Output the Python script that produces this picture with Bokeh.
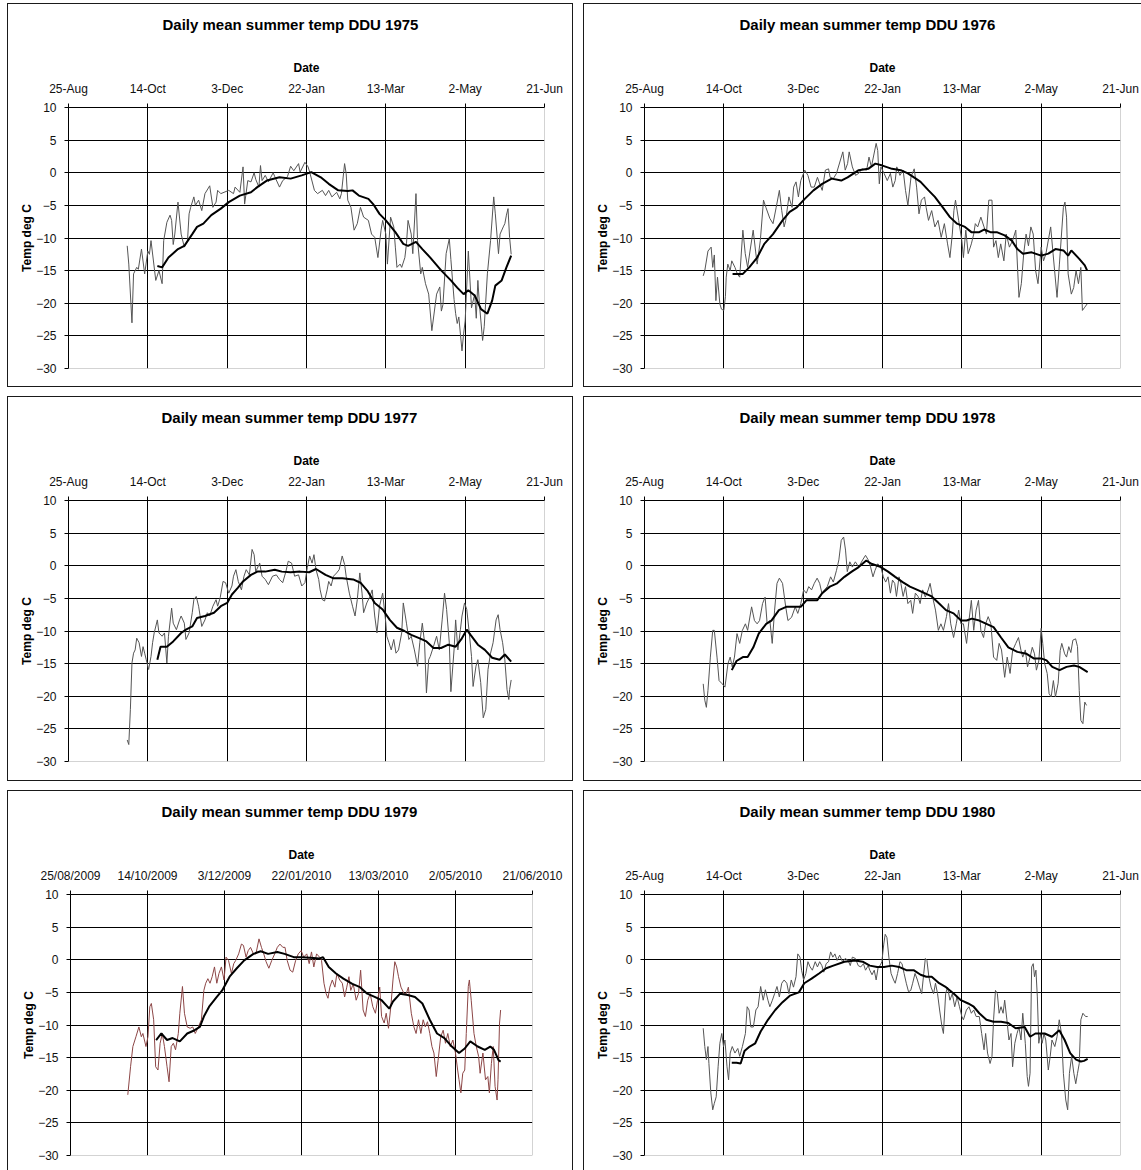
from bokeh.plotting import figure
from bokeh.layouts import column, row
from bokeh.models import Range1d, FixedTicker, Span, LinearAxis, Title
from bokeh.embed import file_html
from bokeh.resources import INLINE

FONT = "Liberation Sans"

# x values are days counted from 25-Aug (tick every 50 days)
tick_days = [0, 50, 100, 150, 200, 250, 300]
tick_labels_short = ["25-Aug", "14-Oct", "3-Dec", "22-Jan", "13-Mar", "2-May", "21-Jun"]
tick_labels_1979 = ["25/08/2009", "14/10/2009", "3/12/2009", "22/01/2010",
                    "13/03/2010", "2/05/2010", "21/06/2010"]
y_ticks = [-30, -25, -20, -15, -10, -5, 0, 5, 10]

# ---------------- 1975 ----------------
days_1975 = [37, 38, 40, 41, 43, 44, 46, 48, 50, 51, 52, 55, 57, 59, 60, 62, 64, 65, 66, 67,
             69, 71, 73, 75, 76, 77, 79, 80, 82, 84, 86, 89, 91, 93, 94, 96, 98, 101, 104, 105,
             108, 110, 111, 113, 115, 117, 118, 120, 121, 122, 124, 126, 129, 130, 133, 135, 138, 140, 142, 145,
             146, 149, 151, 152, 155, 157, 160, 162, 164, 166, 169, 171, 172, 174, 175, 176, 178, 180, 182, 184,
             186, 189, 191, 193, 195, 197, 198, 200, 201, 203, 205, 206, 207, 209, 210, 212, 213, 214, 216, 217,
             219, 220, 222, 223, 225, 227, 229, 232, 234, 235, 236, 238, 240, 241, 243, 244, 245, 246, 248, 249,
             250, 252, 254, 256, 257, 258, 259, 261, 262, 264, 266, 268, 269, 271, 272, 274, 275, 276, 277, 278, 279]
temp_1975 = [-11.2, -14, -23, -15.5, -14.5, -14.8, -11.7, -15.5, -12, -12.5, -10.4, -16.5, -15, -17, -10.4, -7.6, -6.5, -7.3, -11, -9.4,
             -4.5, -9.4, -11.4, -10.4, -6.3, -5.3, -3.7, -5, -4.2, -5.8, -3.2, -2, -5.3, -4.5, -2.7, -3.2, -3, -2.7, -3.2, -2.2,
             -3, 0.9, -4.8, -1.2, -1.4, 0, -1, -2.2, 1.1, -1.2, -0.4, -1.4, 0, -0.6, -2.2, -1.2, -0.6, 1, 0.3, 1.4,
             0.1, 1.6, 0.9, 0.1, -2.7, -3.2, -2.7, -3.5, -2.7, -3.7, -3, -4, -3.2, 1.4, -0.1, -4.2, -5.3, -8.8, -7.8, -5.3,
             -6.8, -7.3, -9.4, -9.9, -13, -8.8, -7.3, -9.4, -14, -6.8, -8.3, -11.4, -14.5, -14, -14.5, -13, -10.9, -7.3, -9.4, -12.4,
             -3.2, -10.4, -15.5, -14.5, -17, -18.6, -24.2, -18.6, -17.5, -21.2, -20.2, -12.4, -10.1, -13.3, -19.4, -21.6, -23.1, -22.1, -27.3, -24.7,
             -22.7, -12, -20.7, -18.6, -22.3, -16.5, -20.2, -25.7, -23.6, -15.5, -10.4, -3.7, -6.3, -12.4, -9.4, -8.3, -7.8, -6.5, -5.5, -9.9, -12.5]
smooth_days_1975 = [56, 59, 63, 69, 73, 78, 81, 85, 90, 96, 101, 108, 115, 119, 125, 133, 140, 147, 153, 159,
                    164, 170, 176, 179, 183, 189, 192, 196, 200, 206, 211, 214, 219, 223, 228, 235, 241, 245, 249, 252,
                    256, 260, 264, 267, 269, 273, 276, 279]
smooth_1975 = [-14.3, -14.5, -13, -11.7, -11.2, -9.4, -8.3, -7.8, -6.5, -5.5, -4.5, -3.5, -3, -2.2, -1.2, -0.7, -0.9, -0.4, 0.1, -0.7,
               -1.7, -2.7, -2.8, -2.7, -3.5, -4, -4.8, -6.3, -7.3, -9.1, -10.9, -11.2, -10.6, -11.7, -13, -15, -16.5, -17.6, -18.6, -18,
               -18.8, -20.9, -21.6, -19.6, -17.3, -16.5, -14.5, -12.7]

# ---------------- 1976 ----------------
days_1976 = [37, 38, 40, 42, 43, 44, 45, 46, 47.5, 48.5, 50, 51, 51.5, 52.5, 54, 55, 57, 58.5, 60, 62,
             63.5, 65, 66.5, 68.5, 70, 71, 73, 75, 76.5, 79, 81, 83, 85, 86.5, 88, 89, 91, 93, 94, 95.5,
             97, 98.5, 101, 103, 105, 107, 109, 110, 112, 114, 116, 117, 119, 121, 125, 126.5, 128, 129, 131, 133,
             135, 137, 140, 141.5, 143, 146, 147, 148, 149, 151, 153, 155, 156.5, 158, 159, 161, 163, 164.5, 166, 168,
             170, 171.5, 173, 174.5, 176.5, 177.5, 179, 181, 183, 185, 187, 189, 191, 192.5, 194, 195, 196, 198, 200, 201,
             202.5, 204, 206, 207.5, 208.5, 210, 212, 214, 215.5, 217, 219, 220, 221.5, 223, 224.5, 226.5, 228, 230, 232, 234,
             236, 237.5, 239, 240.5, 242, 243.5, 245, 246.5, 248, 250, 251.5, 253, 256, 257.5, 260, 261.5, 264, 265, 266, 267,
             269, 270.5, 272, 273.5, 275, 276, 277.5, 279]
temp_1976 = [-15.8, -15, -12, -11.4, -14.5, -12.6, -19.6, -16, -20.1, -20.9, -21.1, -19, -16, -14, -15, -13.5, -14.5, -15.5, -16, -8.8,
             -12.4, -14.5, -12, -8.8, -12, -14, -10.4, -4.2, -5.3, -7, -7.8, -5.3, -2.7, -5.8, -8.3, -7.3, -3.7, -5.3, -2.2, -1.4,
             -3.7, -1.2, 0.4, -0.4, -2.2, -2.2, -0.7, -1.4, -2.7, 0.4, 0.6, -0.7, -0.9, -0.1, 3.2, 0.4, 1.4, 3.2, 0.9, -0.4,
             -0.1, 0.6, 0.4, 2.4, 0.9, 4.5, 3.4, -1.7, 0.9, -0.1, -1.2, -0.1, -2.2, -1.2, 0.9, -0.4, 0.4, -2.7, -5, -0.6,
             0.6, -2.2, -6.3, -4.2, -3.7, -5.3, -7.3, -5.8, -8.3, -7.3, -9.9, -7.8, -10.9, -13, -9.4, -5.8, -4.2, -7.3, -10.4, -13,
             -8.8, -12.4, -10.9, -9.4, -7.8, -8.3, -6.8, -8.3, -9.4, -4.2, -4.2, -11.4, -10.4, -13, -10.9, -13.5, -9.4, -11.4, -10.4, -8.8,
             -19.1, -17, -12.4, -9.4, -11.2, -8.3, -9.4, -15, -17, -11.4, -13.5, -12.4, -8.3, -12.4, -19.1, -14, -5.3, -4.5, -6.8, -15.5,
             -18.6, -17.6, -15, -17, -14.5, -21.1, -20.6, -20.1]
smooth_days_1976 = [55.5, 62, 66, 71, 75.5, 81, 87, 91.5, 96, 101, 106.5, 112, 118, 124, 128, 135, 141, 145.5, 150, 156,
                    161.5, 166, 171, 174, 179, 183, 188, 192.5, 197, 202, 206, 211, 214, 218, 222, 227, 231.5, 235, 238.5, 244,
                    250, 254.5, 259, 264, 267, 269, 274, 277.5, 279]
smooth_1976 = [-15.5, -15.5, -14.5, -13, -10.9, -9.4, -7.3, -6, -5.3, -4, -2.7, -1.7, -0.9, -1.2, -0.7, 0.4, 0.6, 1.4, 1.1, 0.6,
               0.4, -0.1, -0.9, -1.4, -2.7, -3.7, -5.3, -6.8, -7.8, -8.3, -9.1, -9.1, -8.7, -9.1, -9.1, -9.6, -10.4, -11.7, -12.4, -12.2,
               -12.7, -12.4, -11.7, -11.9, -12.7, -11.9, -13.2, -14.2, -15]

# ---------------- 1977 ----------------
days_1977 = [37, 38, 39, 40, 41, 42, 43, 44.5, 46, 47, 48, 49, 50.5, 52, 53, 54, 56, 57, 59, 60.5,
             62, 63, 65, 66, 68, 70, 71, 73, 74, 76, 78, 79, 80.5, 82, 84, 86, 87.5, 89, 91, 93,
             94, 95.6, 97.4, 99, 101, 103, 104, 105.5, 107, 109, 110.6, 112, 114, 115.7, 117, 118, 120.5, 122, 124, 126,
             128.6, 131, 133, 135, 137, 138.5, 140.6, 142.5, 145, 147, 149, 150.5, 152, 153.5, 154.7, 156, 157.7, 158.6, 160, 161.4,
             163, 164, 165.5, 167, 169, 170.6, 172.5, 174, 175, 177, 179, 180.6, 182, 183.6, 185, 186, 188, 190, 191.4, 193,
             194.4, 196, 198, 200, 200.6, 202, 203.4, 205, 206.4, 208, 210, 211, 213, 214.5, 216, 218, 220, 221.4, 223, 224.4,
             225.6, 227, 228, 230, 232, 233.7, 235.5, 237, 238.3, 240, 241, 243, 244, 245.4, 247, 248, 249.6, 251, 252.6, 254,
             255, 256.8, 258, 259.8, 261.4, 263, 264.4, 266, 267.6, 269.5, 270.8, 272, 273.6, 275, 276.4, 277.5, 278, 279]
temp_1977 = [-26.7, -27.4, -22, -14.9, -13.4, -12.9, -11.1, -11.8, -13.9, -12.4, -13.4, -14.4, -15.9, -13.9, -11.8, -10.3, -8.3, -10.3, -10.8, -10.3,
             -14.9, -10.8, -6.5, -8.8, -9.8, -8.3, -7.7, -8.8, -11.3, -10.3, -7.2, -5.2, -4.7, -6.2, -9.3, -8.3, -7.2, -7.7, -6.2, -5.2,
             -6.2, -4.9, -2.4, -2.6, -4.2, -3.1, -1.6, -0.6, -2.4, -3.7, -1.6, -0.6, -1.4, 2.5, 1.7, -0.9, 0.4, -1.6, -2.1, -2.9,
             -1.6, -1.4, -2.1, -2.6, -0.9, 0.7, 0.4, -1.6, -1.4, -3.1, -2.6, -0.3, 1.5, 0.4, 1.7, -0.6, -2.1, -3.7, -5.2, -5.4,
             -3.7, -2.4, -3.1, -1.6, -1.1, -0.6, 1.5, 0.2, -1.6, -4.2, -6.2, -7.7, -5.2, -1.1, -4.2, -7.2, -5.7, -4.7, -3.7, -7.7,
             -10.3, -6.2, -4.2, -8.8, -10.8, -11.8, -12.9, -11.3, -13.4, -12.9, -10.3, -5.7, -8.8, -11.3, -10.8, -12.9, -15.4, -11.8, -8.8, -11.8,
             -19.5, -14.4, -13.9, -12.4, -10.8, -12.9, -8.3, -4.2, -6.7, -11.8, -19.3, -12.9, -8.3, -12.9, -9.8, -7.7, -5.7, -6.7, -10.3, -13.9,
             -18.5, -15.4, -14.4, -17.9, -23.3, -22, -15.9, -13.4, -11.8, -8.3, -7.5, -9.8, -11.8, -14.4, -19, -20.5, -19, -17.5]
smooth_days_1977 = [56, 58, 62, 66, 71, 74, 78, 81, 86, 91.7, 96, 100, 103, 106.7, 110, 115, 119, 124, 130, 134.4,
                    140, 146, 151.7, 156, 162, 166.7, 172.5, 179.4, 184, 188.6, 193, 198, 202.5, 207, 211.7, 216, 221, 225.6, 230, 234.8,
                    239.4, 244, 247.5, 251, 253.4, 258, 262.4, 267, 271.7, 275, 279]
smooth_1977 = [-14.4, -12.4, -12.4, -11.6, -10.3, -9.8, -9.3, -8, -7.7, -7.2, -6.2, -5.7, -4.4, -3.4, -2.4, -1.4, -0.9, -0.9, -0.6, -0.9,
               -1, -0.9, -1, -0.5, -1.4, -1.9, -1.9, -2.1, -2.6, -3.9, -5.7, -6.7, -8.3, -9.5, -10, -10.6, -11.1, -11.6, -12.6, -12.6,
               -12.1, -12.4, -11.3, -9.8, -10.6, -12.1, -12.9, -14.1, -14.4, -13.6, -14.7]

# ---------------- 1978 ----------------
days_1978 = [37, 38, 39, 40, 41.5, 43, 44, 45.7, 47, 49, 50.7, 52.6, 54, 55.3, 56.7, 58.3, 60, 61.7, 63.6, 65,
             67.5, 69.3, 71, 72.5, 74.4, 76, 77.3, 79, 80.5, 82, 83.5, 85, 87, 89, 90.4, 92.7, 95, 96.6, 98.5, 100.3,
             102, 103.5, 105.3, 107, 108.8, 110.4, 111.8, 113.4, 115.2, 117.3, 119, 121, 122.5, 124, 125.5, 126.7, 127.8, 129.4, 131, 132.9,
             135, 137.5, 139.3, 141, 142.5, 144, 145.3, 147, 149, 150.5, 152, 153.5, 155, 156.3, 157.7, 158.8, 160.4, 161.6, 163, 164.5,
             166, 167.8, 169, 170.7, 172.4, 173.7, 175.3, 177, 178.8, 180, 181.5, 183.4, 185.2, 186.8, 188.4, 190.3, 191.6, 193, 194.8, 196.5,
             198, 199.4, 201, 203, 204.5, 206, 207.5, 209, 210.5, 212, 213.7, 215, 216.6, 218.3, 220, 222, 223.5, 225, 227, 228.6,
             230.4, 232, 234, 235.7, 237.3, 238.4, 240, 241.4, 243, 244.4, 245.8, 247, 248.5, 250, 251, 252.2, 253.8, 255, 256.3, 257.7,
             259, 260.7, 262, 263, 264.8, 266, 267.4, 268.7, 270, 271.7, 272.9, 274, 275, 276.3, 277.5, 278.6]
temp_1978 = [-18.1, -20.6, -21.7, -19.1, -14, -9.9, -9.9, -14, -17.6, -18.1, -18.6, -15, -14, -15.5, -14, -10.4, -11.9, -9.9, -8.9, -9.9,
             -6.3, -8.4, -8.9, -8.4, -5.8, -4.8, -8.9, -8.4, -11.9, -6.8, -2.7, -1.9, -2.7, -6.3, -8.4, -7.9, -6.3, -7.3, -5.8, -3.7,
             -4.2, -3.2, -3.7, -2.7, -1.9, -2.7, -4.2, -3.7, -3.2, -1.7, -2.5, -0.7, 0.9, 3.9, 4.4, 2.4, -0.9, 0.6, -0.2, 0.6,
             -0.2, 0.9, 1.6, 0.9, -0.2, -1.7, -0.7, 0.3, -0.2, -1.7, -2.5, -1.7, -4.2, -2.2, -2.7, -4.7, -1.7, -2.7, -4.7, -3.2,
             -5.8, -5.3, -7.3, -4.2, -4.7, -5.8, -3.7, -4.8, -3.7, -2.7, -4.7, -6.8, -9.9, -8.9, -9.9, -7.8, -5.8, -8.9, -11, -8.9,
             -6.8, -8.9, -8.9, -11.9, -8.4, -5.3, -9.9, -6.8, -5.3, -9.9, -11, -8.9, -7.8, -8.9, -14, -14.5, -11.9, -12.9, -17.1, -14,
             -16.5, -13, -11.9, -11, -13, -14, -12.9, -15.5, -14, -12.5, -13.5, -16, -14.6, -9.6, -11.9, -15, -16.5, -19.6, -20.1, -17.6,
             -20.1, -18, -13, -11.9, -13.5, -14, -12.4, -13.3, -11.4, -11.2, -12.4, -19.1, -23.7, -24.2, -20.9, -21.4]
smooth_days_1978 = [55, 58, 62, 65, 68.6, 72, 76.7, 80, 84.7, 89.3, 95, 98.5, 102, 105.3, 108.8, 112, 116.8, 121.4, 126, 130.6,
                    135, 139.8, 143, 149, 153.5, 158, 162.7, 167.3, 172, 176.5, 181, 185.7, 190, 194.8, 199.5, 203, 206.3, 211, 215.5, 220,
                    224.7, 229.3, 235, 240.8, 245.3, 250, 253.4, 257, 261.6, 266, 270.7, 274, 279.3]
smooth_1978 = [-16, -14.6, -14, -14, -12.5, -10.4, -8.9, -8.4, -6.8, -6.3, -6.3, -6.3, -5.3, -5.3, -5.3, -4.2, -3.2, -2.7, -1.7, -0.9,
               -0.2, 0.8, 0.3, -0.2, -0.9, -1.7, -2.5, -3.2, -3.7, -4.2, -4.7, -5.8, -6.8, -7.3, -8.4, -8.4, -8.1, -8.4, -8.9, -9.4,
               -11, -12.5, -13.2, -13.5, -14.2, -14.2, -14.5, -15.5, -16, -15.5, -15.3, -15.5, -16.3]

# ---------------- 1979 ----------------
days_1979 = [37.2, 39, 40.5, 42.5, 44.4, 46, 47, 49, 50.3, 51.5, 52.5, 54, 55.3, 56.8, 58.2, 59.6, 61, 62.7, 64, 65.4,
             66.8, 68.2, 70, 71, 72.7, 74, 75.8, 77.7, 79.4, 81, 83, 85, 86.6, 87.8, 89.2, 90.6, 92, 93.5, 95, 96.4,
             98, 99.7, 101, 102.6, 104.5, 106, 107.3, 109.2, 111, 112.3, 114, 115.4, 116.9, 118.8, 120.4, 122.4, 124, 125.5, 127, 128.8,
             130.7, 132.6, 134.3, 136, 137.9, 139.3, 140.7, 142.6, 144.3, 146.2, 147.9, 149.8, 151.4, 153.4, 155, 156.5, 158, 159.8, 161.7, 163,
             164.6, 166, 167.2, 168.4, 170, 171.7, 173, 174.8, 176.5, 178, 179.4, 180.8, 182, 183.6, 185.5, 187, 188.4, 190, 191.5, 193,
             194.6, 196.3, 198, 199.4, 200.8, 202, 203.7, 205, 206.5, 208, 209.4, 210.6, 211.8, 213, 214.6, 216.6, 218, 219.4, 221.3, 223,
             224.4, 226, 227.5, 229, 230.4, 231.8, 233.3, 234.7, 236, 237.5, 238.7, 240.4, 242, 243.5, 245, 246.6, 248.3, 250, 251.4, 252.3,
             253.5, 254.7, 256, 257, 258.3, 259, 260.2, 262, 263.5, 265, 266, 267.8, 269.5, 271, 272, 273.3, 274.5, 275.7, 277, 277.6,
             278.6, 279.3]
temp_1979 = [-20.7, -16.4, -13.3, -11.8, -10.3, -11.8, -11.3, -13.3, -11.8, -7.2, -6.7, -9.2, -16.4, -16.9, -12.8, -11.3, -13.3, -16.4, -18.7, -13.3,
             -12.8, -13.8, -11.3, -8.2, -4.1, -8.2, -10.3, -10.5, -10.3, -11.3, -10.3, -9.2, -4.7, -3.6, -2.9, -3.6, -2.6, -1.1, -3.6, -2.1,
             -1.1, -3.1, 0.4, -0.1, -2.1, -0.6, -0.1, 0.9, 2.4, 2.2, 0.4, 1.4, 1.9, 0.9, 0.9, 3.2, 1.9, 0.9, -0.3, -1.3,
             -0.1, 0.9, 1.9, 2.4, 1.9, 1.9, -0.1, -1.6, -1.9, -0.1, 0.9, 1.4, 0.4, 0.9, -0.6, 1.2, -1.1, 0.9, 0.4, -0.1,
             -3.6, -5.2, -5.9, -4.2, -3.1, -4.2, -2.1, -3.1, -3.6, -5.7, -4.2, -2.6, -4.7, -3.7, -6.2, -5.2, -1.6, -7.7, -8.7, -6.2,
             -5.2, -7.2, -8.2, -6.2, -4.2, -8.7, -9.7, -8.2, -10.5, -7.2, -3.1, -0.3, -1.1, -2.6, -4.2, -5.2, -5.2, -4.2, -8.2, -10.3,
             -11.3, -9.2, -11.3, -9.2, -10.3, -9.5, -11.3, -13.3, -14.3, -17.9, -15.4, -11.8, -10.8, -12.8, -11.3, -13.3, -12.3, -14.3, -16.9, -18.4,
             -20.4, -17.4, -16.9, -11.3, -4.1, -3.1, -6.2, -11.3, -13.3, -14.8, -17.4, -14.3, -18.4, -17.9, -20.4, -15.9, -13.3, -19.4, -21.5, -18.4,
             -9.7, -7.7]
smooth_days_1979 = [55.6, 59, 62.7, 66.3, 71, 75.8, 80.6, 84, 86.6, 90, 95, 98.5, 103.3, 108, 112.8, 118.8, 123.5, 128.3, 134.3, 139,
                    145, 149.8, 155.7, 161.7, 164, 167.7, 172.4, 177.2, 183, 188, 192.7, 197.5, 202, 207, 209.4, 214, 219, 223.7, 228.5, 233.3,
                    238, 242.8, 247.6, 252.3, 256, 259.6, 264.4, 269, 272.6, 275, 278, 279.3]
smooth_1979 = [-12.3, -11.3, -12.3, -12, -12.5, -11.3, -10.8, -10.3, -8.7, -7.2, -5.7, -4.7, -2.6, -1.3, -0.1, 0.9, 1.3, 0.9, 1.2, 0.9,
               0.4, 0.4, 0.3, 0.2, 0.4, -1.1, -2.1, -2.9, -3.7, -4.2, -5.2, -5.7, -6.2, -7.5, -6.4, -5.2, -5.4, -5.7, -6.7, -9.2,
               -11.3, -12, -13.3, -14.3, -13.6, -12.5, -13.3, -13.8, -13.3, -13.8, -15.4, -15.6]

# ---------------- 1980 ----------------
days_1980 = [37, 38, 39, 40, 40.6, 41.8, 43, 44, 45.2, 46.4, 47.5, 48.7, 49.8, 50.7, 52, 53, 54, 55.3, 57, 58.8,
             60, 61.7, 63.6, 64.7, 65.9, 67, 68.6, 70.2, 71.6, 73.2, 74.8, 76.2, 77.8, 79, 80.6, 82, 83.5, 85, 86.5, 88,
             89.7, 91, 92.5, 93.9, 95.5, 96.6, 98, 99, 100.3, 101.7, 103, 104.4, 105.8, 107.6, 109, 110.4, 111.8, 113, 114.5, 116,
             117.3, 118.7, 120, 121.4, 123, 124.8, 126.5, 128.3, 129.7, 131, 132.9, 134.7, 136.3, 138, 139.3, 141, 142, 143.4, 144.8, 146,
             147.3, 148.5, 149.6, 150.8, 151.7, 152.8, 154, 155.4, 157, 158, 159.5, 161, 162.3, 163.6, 165, 166.4, 167.8, 169, 170.5, 172,
             173.3, 174.7, 176, 177, 178, 179.2, 180.6, 182.2, 183.4, 184.7, 186, 187.5, 188.4, 189.8, 191, 192.5, 194, 195.5, 197, 198.5,
             200, 201, 202.9, 204.5, 206, 207.5, 209, 211, 212.5, 214, 215, 216.2, 217.8, 219, 220, 221.2, 222.4, 223.5, 224.7, 226,
             227, 228.4, 229.7, 231, 232, 233.4, 234.8, 236, 237.3, 238.4, 240, 241.2, 242, 243, 244, 245, 245.8, 246.7, 247.6, 248.5,
             249.5, 250.6, 251.8, 252.9, 254.5, 255.7, 256.8, 258.6, 260, 261.4, 262.8, 264, 265.5, 266.7, 267.8, 269.2, 270.6, 271.8, 272.9, 274,
             275, 276.3, 278, 279.3]
temp_1980 = [-10.5, -13.3, -15.3, -13.3, -15.9, -20.4, -23, -22, -21, -16.4, -12.8, -11.3, -13.3, -12.3, -16.4, -18.4, -14.3, -13.3, -14.3, -13.6,
             -14.8, -13.3, -11.3, -7.2, -7.7, -10.3, -10.3, -7.7, -7.2, -4.1, -6.2, -4.6, -6.2, -7.2, -6.2, -5.2, -4.1, -5.7, -3.6, -3.1,
             -3.6, -5.2, -3.1, -4.2, -2.6, 0.9, 0.4, -1.6, -3.1, -2.1, -0.3, -1.1, -1.6, -0.3, -1.1, -0.3, -0.9, -1.9, -0.6, -0.3,
             1.2, 0.4, 0.9, -0.1, 0.7, -0.3, 0.2, -0.1, -0.9, 0.4, 0.2, -0.9, -1.1, -0.6, -1.6, -0.9, -1.6, -2.3, -1.6, -3.1,
             -1.1, -0.9, -0.3, 2.4, 3.9, 3.4, 0.4, -2.1, -3.1, -3.6, -2.1, -0.3, -0.6, -2.1, -3.6, -4.9, -4.7, -3.6, -2.1, -3.1,
             -4.2, -5.2, -2.1, 0.2, -0.1, -2.6, -4.2, -5.2, -3.6, -5.2, -7.7, -10.3, -11.3, -5.2, -4.2, -6.2, -5.2, -7.2, -5.7, -7.2,
             -8.7, -9.2, -7.7, -7.2, -8.2, -7.7, -8.7, -8.7, -11.3, -13.8, -11.3, -14.3, -15.9, -14.8, -9.2, -4.7, -5.2, -8.2, -7.2, -8.2,
             -6.2, -9.2, -12.3, -11.3, -16.4, -12.8, -11.3, -10.3, -12.3, -8.2, -12.8, -17.9, -19.4, -17.4, -1.1, -0.6, -2.6, -1.6, -5.7, -12.8,
             -11.3, -12.8, -11.3, -12.3, -16.9, -14.8, -12.3, -13.3, -11.8, -9.2, -11.3, -17.4, -21.5, -23, -17.4, -14.8, -17.4, -19, -17.4, -15.9,
             -9.2, -8.2, -8.7, -8.7]
smooth_days_1980 = [55, 58, 60.6, 63, 66.3, 69.8, 73.2, 77.8, 82.4, 87, 91.6, 97.3, 100.7, 105.3, 110, 114.5, 119, 126, 132.9, 137.5,
                    142, 146.6, 151, 155.8, 160.4, 165, 169.6, 174, 177.6, 181, 185.7, 190, 195, 199.4, 204, 207.5, 211, 215.5, 220, 224.7,
                    229.3, 233.9, 239.6, 243, 246.4, 252.2, 256.8, 261.4, 264.8, 268.3, 272, 275, 277, 279.3]
smooth_1980 = [-15.8, -15.8, -15.9, -14, -13.3, -12.8, -11, -9.2, -7.7, -6.5, -5.5, -5, -3.6, -2.9, -2.1, -1.3, -0.9, -0.3, -0.1, -0.3,
               -0.9, -1.1, -1.1, -0.9, -1.1, -1.6, -1.6, -2.3, -2.6, -2.6, -3.6, -4.2, -5.2, -6.2, -6.7, -7.2, -8.2, -9.2, -9.5, -9.5,
               -9.7, -10.5, -10.3, -11.8, -11.3, -11.3, -11.8, -10.8, -12.3, -14.3, -15.3, -15.6, -15.5, -15.2]


def make_panel(title, days, temps, sdays, stemps, labels, width, height, left, frame_w,
               bottom, daily_color, title_offset, cut_right=False, cut_bottom=False):
    p = figure(width=width, height=height, output_backend="svg", toolbar_location=None,
               tools="", x_range=Range1d(0, 300), y_range=Range1d(-30, 10),
               x_axis_location="above", min_border_left=left,
               min_border_right=width - left - frame_w, min_border_top=103,
               min_border_bottom=bottom)
    p.outline_line_color = None
    p.background_fill_color = "white"
    p.border_fill_color = "white"
    p.title_location = None

    xa = p.xaxis[0]
    xa.ticker = FixedTicker(ticks=tick_days)
    xa.major_label_overrides = {d: lab for d, lab in zip(tick_days, labels)}
    xa.axis_label = "Date"
    ya = p.yaxis[0]
    ya.ticker = FixedTicker(ticks=y_ticks)
    ya.axis_label = "Temp deg C"
    for ax in (xa, ya):
        ax.axis_label_text_font = FONT
        ax.axis_label_text_font_style = "bold"
        ax.axis_label_text_font_size = "12px"
        ax.axis_label_text_color = "#000000"
        ax.major_label_text_font = FONT
        ax.major_label_text_font_size = "12px"
        ax.major_label_text_color = "#111111"
        ax.axis_line_color = "#000000"
        ax.major_tick_line_color = "#000000"
        ax.major_tick_out = 4
        ax.major_tick_in = 0
        ax.minor_tick_line_color = None
        ax.major_label_standoff = 8
    xa.axis_label_standoff = 4
    ya.axis_label_standoff = -1

    # blank spacer (one white tick, label not drawn) between the date axis and the title
    spacer = LinearAxis(ticker=FixedTicker(ticks=[150]), axis_label=None,
                        axis_line_color=None, major_tick_line_color="#ffffff",
                        minor_tick_line_color=None, major_tick_out=12, major_tick_in=0,
                        minor_tick_out=0, major_label_standoff=0,
                        major_label_text_color=None, major_label_text_font_size="1px")
    p.add_layout(spacer, "above")

    p.add_layout(Title(text=title, align="left", vertical_align="top", offset=title_offset,
                       text_font=FONT, text_font_size="15px", text_font_style="bold",
                       text_color="#000000", standoff=22), "above")

    p.xgrid.ticker = FixedTicker(ticks=[50, 100, 150, 200, 250])
    p.ygrid.ticker = FixedTicker(ticks=[-25, -20, -15, -10, -5, 0, 5])
    for g in (p.xgrid[0], p.ygrid[0]):
        g.grid_line_color = "#000000"
        g.grid_line_width = 1

    p.add_layout(Span(location=300, dimension="height", line_color="#a8a8a8", line_width=1))
    p.add_layout(Span(location=-30, dimension="width", line_color="#a8a8a8", line_width=1))

    p.line(days, temps, line_color=daily_color, line_width=1)
    p.line(sdays, stemps, line_color="#000000", line_width=2)

    # chart-area border (CSS border around the figure element)
    st = {"border-left": "1px solid #1a1a1a", "border-top": "1px solid #1a1a1a"}
    if not cut_right:
        st["border-right"] = "1px solid #1a1a1a"
    if not cut_bottom:
        st["border-bottom"] = "1px solid #1a1a1a"
    p.styles = st
    return p


p1 = make_panel("Daily mean summer temp DDU 1975", days_1975, temp_1975, smooth_days_1975, smooth_1975,
                tick_labels_short, 566, 384, 60, 476, 20, "#555555", 94)
p2 = make_panel("Daily mean summer temp DDU 1976", days_1976, temp_1976, smooth_days_1976, smooth_1976,
                tick_labels_short, 558, 384, 60, 476, 20, "#555555", 95, cut_right=True)
p3 = make_panel("Daily mean summer temp DDU 1977", days_1977, temp_1977, smooth_days_1977, smooth_1977,
                tick_labels_short, 566, 385, 60, 476, 21, "#555555", 93)
p4 = make_panel("Daily mean summer temp DDU 1978", days_1978, temp_1978, smooth_days_1978, smooth_1978,
                tick_labels_short, 558, 385, 60, 476, 21, "#555555", 95, cut_right=True)
p5 = make_panel("Daily mean summer temp DDU 1979", days_1979, temp_1979, smooth_days_1979, smooth_1979,
                tick_labels_1979, 566, 380, 62, 462, 16, "#8c4646", 91, cut_bottom=True)
p6 = make_panel("Daily mean summer temp DDU 1980", days_1980, temp_1980, smooth_days_1980, smooth_1980,
                tick_labels_short, 558, 380, 60, 476, 16, "#555555", 95, cut_right=True, cut_bottom=True)

layout = column(row(p1, p2, spacing=10), row(p3, p4, spacing=10), row(p5, p6, spacing=10),
                spacing=9, margin=(3, 0, 0, 7))

open("out.html", "w").write(file_html(layout, INLINE))
